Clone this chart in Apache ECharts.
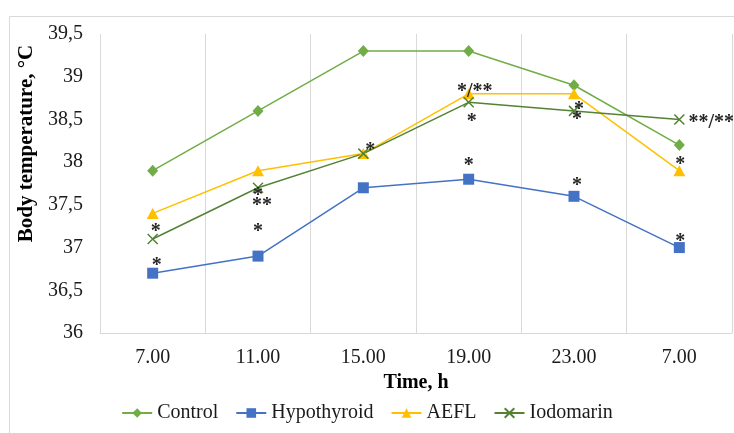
<!DOCTYPE html>
<html>
<head>
<meta charset="utf-8">
<script src="https://cdn.jsdelivr.net/npm/echarts@6/dist/echarts.min.js"></script>
<style>
html,body{margin:0;padding:0;background:#fff;}
#chart{width:734px;height:433px;}
</style>
</head>
<body>
<div id="chart"></div>
<script>
// ---- data ----
const categories = ['7.00', '11.00', '15.00', '19.00', '23.00', '7.00'];
const control     = [37.9, 38.6, 39.3, 39.3, 38.9, 38.2];
const hypothyroid = [36.7, 36.9, 37.7, 37.8, 37.6, 37.0];
const aefl        = [37.4, 37.9, 38.1, 38.8, 38.8, 37.9];
const iodomarin   = [37.1, 37.7, 38.1, 38.7, 38.6, 38.5];
// significance marks per point
const controlMarks = ['', '', '', '', '', ''];
const hypoMarks    = ['*', '*', '', '*', '*', '*'];
const aeflMarks    = ['', '**', '', '*/**', '*', '*'];
const iodoMarks    = ['*', '*', '*', '*', '*', '**/**'];
const yMin = 36, yMax = 39.5, yStep = 0.5;

// ---- styling ----
const FONT = 'Liberation Serif';
const markOffsets = {
  control: [[0,0],[0,0],[0,0],[0,0],[0,0],[0,0]],
  hypo: [[4,-7],[0,-24],[0,0],[0,-13],[3,-10],[1,-6]],
  aefl: [[0,0],[4,35],[0,0],[6,-2],[3,26],[1,-6]],
  iodo: [[3,-7],[0,8],[7,-3],[3,19],[5,-1],[32,3]]
};

function buildData(values, marks, offsets) {
  return values.map((v, i) => {
    if (!marks[i]) return v;
    return {
      value: v,
      label: {
        show: true,
        position: 'inside',
        formatter: marks[i],
        offset: offsets[i],
        fontFamily: FONT,
        fontSize: 20,
        fontWeight: 'bold',
        color: '#262626'
      }
    };
  });
}

function lineSeries(name, values, marks, offsets, color, symbol, size, extraItem) {
  return {
    name: name,
    type: 'line',
    data: buildData(values, marks, offsets),
    symbol: symbol,
    symbolSize: size,
    lineStyle: { color: color, width: 1.5 },
    itemStyle: Object.assign({ color: color }, extraItem || {}),
    emphasis: { disabled: true },
    z: 3
  };
}

const chart = echarts.init(document.getElementById('chart'));
chart.setOption({
  animation: false,
  backgroundColor: '#fff',
  textStyle: { fontFamily: FONT },
  graphic: [{
    type: 'rect',
    shape: { x: 9.5, y: 16.5, width: 760, height: 460 },
    style: { fill: 'none', stroke: '#d9d9d9', lineWidth: 1 },
    silent: true, z: -1
  }],
  grid: { left: 100, right: 2, top: 34, bottom: 100 },
  legend: {
    left: 'center',
    top: 398,
    itemWidth: 30,
    itemHeight: 12,
    itemGap: 17,
    textStyle: { fontFamily: FONT, fontSize: 20, color: '#1a1a1a' },
    data: ['Control', 'Hypothyroid', 'AEFL', 'Iodomarin']
  },
  xAxis: {
    type: 'category',
    data: categories,
    boundaryGap: true,
    name: 'Time, h',
    nameLocation: 'middle',
    nameGap: 40,
    nameTextStyle: { fontFamily: FONT, fontSize: 20, fontWeight: 'bold', color: '#000' },
    axisLine: { lineStyle: { color: '#d9d9d9', width: 1 } },
    axisTick: { show: false },
    axisLabel: { fontFamily: FONT, fontSize: 20, color: '#1a1a1a', margin: 15, interval: 0 },
    splitLine: { show: true, interval: 0, lineStyle: { color: '#d9d9d9', width: 1 } }
  },
  yAxis: {
    type: 'value',
    min: yMin,
    max: yMax,
    interval: yStep,
    name: 'Body temperature, °C',
    nameLocation: 'middle',
    nameGap: 62,
    nameTextStyle: { fontFamily: FONT, fontSize: 21, fontWeight: 'bold', color: '#000', padding: [0, 0, 0, 80] },
    axisLine: { show: false },
    axisTick: { show: false },
    splitLine: { show: false },
    axisLabel: {
      fontFamily: FONT, fontSize: 20, color: '#1a1a1a', margin: 17,
      formatter: v => String(v).replace('.', ',')
    }
  },
  series: [
    lineSeries('Control', control, controlMarks, markOffsets.control, '#70AD47', 'diamond', [11, 12]),
    lineSeries('Hypothyroid', hypothyroid, hypoMarks, markOffsets.hypo, '#4472C4', 'rect', 11),
    lineSeries('AEFL', aefl, aeflMarks, markOffsets.aefl, '#FFC000', 'triangle', [12, 11]),
    lineSeries('Iodomarin', iodomarin, iodoMarks, markOffsets.iodo, '#548235',
      'path://M0,0L10,10M10,0L0,10', 10, { borderColor: '#548235', borderWidth: 1.5 })
  ]
});
</script>
</body>
</html>
